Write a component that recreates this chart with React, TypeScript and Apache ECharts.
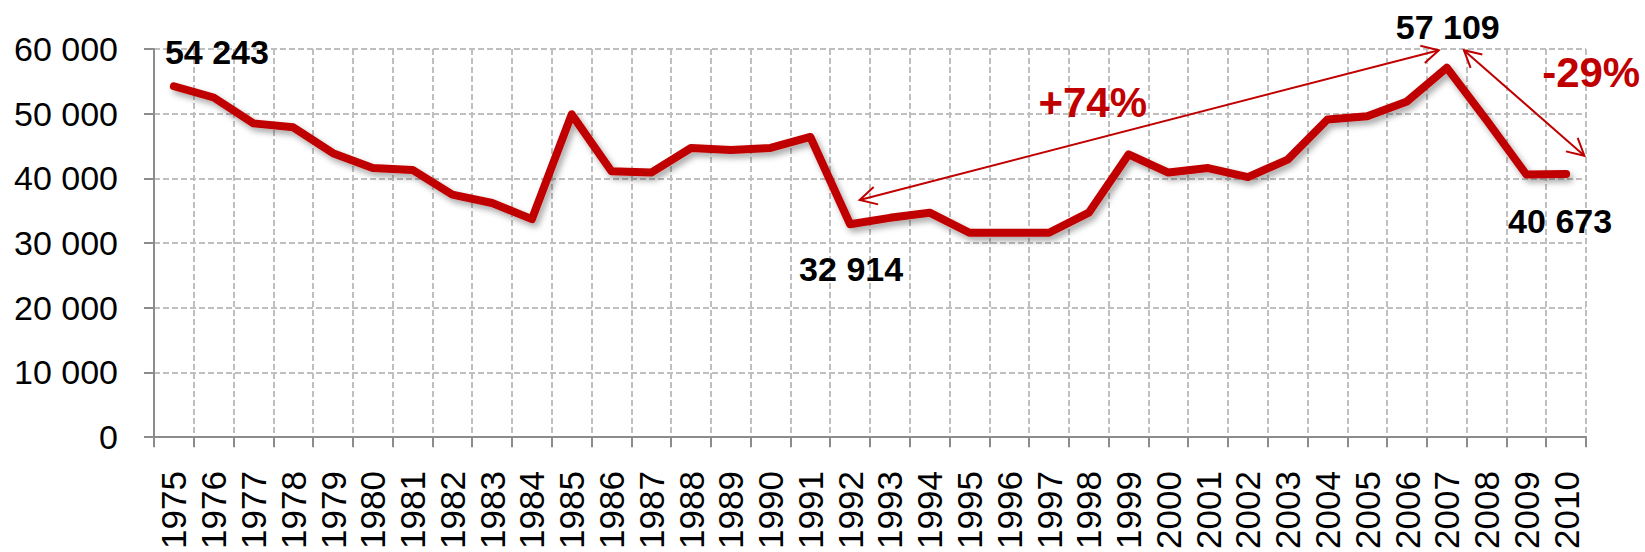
import React, { useEffect, useRef } from 'react';
import * as echarts from 'echarts';

const years = [
  '1975', '1976', '1977', '1978', '1979', '1980', '1981', '1982', '1983', '1984',
  '1985', '1986', '1987', '1988', '1989', '1990', '1991', '1992', '1993', '1994',
  '1995', '1996', '1997', '1998', '1999', '2000', '2001', '2002', '2003', '2004',
  '2005', '2006', '2007', '2008', '2009', '2010',
];

const values = [
  54243, 52500, 48500, 47900, 43900, 41600, 41300, 37500, 36200, 33700,
  49900, 41100, 40900, 44700, 44400, 44700, 46400, 32914, 33900, 34700,
  31600, 31600, 31600, 34700, 43700, 40900, 41600, 40200, 42900, 49100,
  49600, 51900, 57109, 49000, 40600, 40673,
];

const yTicks = [0, 10000, 20000, 30000, 40000, 50000, 60000];

// labelled years and where their value label sits relative to the point (px)
const labelledYears = ['1975', '1992', '2007', '2010'];
const labelOffsets = [[43, -34], [1, 45], [1, -41], [-6, 47]];

// annotation arrows (fractional category index, value) – both ends have arrow heads
const arrowFrom = [[17.24, 36670], [32.43, 59815]];
const arrowTo = [[31.8, 59815], [35.46, 43500]];

// annotation texts (fractional category index, value)
const noteTexts = ['+74%', '-29%'];
const notePos = [[23.1, 51700], [35.63, 56385]];

const RED = '#C00000';
const FONT = '"Liberation Sans", Arial, sans-serif';

const fmt = (v: number) => String(Math.round(v)).replace(/\B(?=(\d{3})+(?!\d))/g, ' ');

export default function App() {
  const ref = useRef<HTMLDivElement>(null);

  useEffect(() => {
    if (!ref.current) return;
    const chart = echarts.init(ref.current, undefined, { renderer: 'svg' });

    const data = values.map((v, i) => {
      const li = labelledYears.indexOf(years[i]);
      if (li < 0) return v;
      return {
        value: v,
        label: {
          show: true,
          position: 'inside',
          offset: labelOffsets[li],
          formatter: fmt(v),
          color: '#000',
          fontSize: 34,
          fontWeight: 'bold',
          fontFamily: FONT,
          align: 'center',
          verticalAlign: 'middle',
        },
      };
    });

    const dashed = { color: '#bfbfbf', width: 2, type: [6, 3] as any };

    chart.setOption({
      animation: false,
      backgroundColor: '#ffffff',
      grid: {
        left: 154,
        right: 59,
        top: 49,
        bottom: 114,
        containLabel: false,
        show: true,
        backgroundColor: '#ffffff',
        borderWidth: 0,
      },
      xAxis: {
        type: 'category',
        data: years,
        boundaryGap: true,
        axisLine: { show: true, lineStyle: { color: '#8c8c8c', width: 2 } },
        axisTick: { show: true, length: 10, interval: 0, lineStyle: { color: '#8c8c8c', width: 2 } },
        axisLabel: {
          interval: 0,
          rotate: 90,
          margin: 34,
          color: '#000',
          fontSize: 35,
          fontFamily: FONT,
        },
        splitLine: { show: true, interval: 0, lineStyle: dashed },
      },
      yAxis: {
        type: 'value',
        min: yTicks[0],
        max: yTicks[yTicks.length - 1],
        interval: yTicks[1] - yTicks[0],
        axisLine: { show: true, lineStyle: { color: '#8c8c8c', width: 2 } },
        axisTick: { show: true, length: 10, lineStyle: { color: '#8c8c8c', width: 2 } },
        axisLabel: {
          margin: 36,
          color: '#000',
          fontSize: 34,
          fontFamily: FONT,
          formatter: (v: number) => fmt(v),
        },
        splitLine: { show: true, lineStyle: dashed },
      },
      series: [
        {
          type: 'line',
          data,
          symbol: 'circle',
          symbolSize: 1,
          showSymbol: true,
          itemStyle: { color: RED },
          lineStyle: {
            color: RED,
            width: 8,
            cap: 'round',
            join: 'round',
            shadowColor: 'rgba(0,0,0,0.35)',
            shadowBlur: 6,
            shadowOffsetX: 3,
            shadowOffsetY: 4,
          },
          z: 5,
        },
      ],
    });

    // map a fractional category index + value to pixels using the chart's own axes
    const a0 = chart.convertToPixel({ gridIndex: 0 }, [0, 0]) as number[];
    const a1 = chart.convertToPixel({ gridIndex: 0 }, [1, 0]) as number[];
    const toPx = (p: number[]) => {
      const py = chart.convertToPixel({ yAxisIndex: 0 }, p[1]) as number;
      return [a0[0] + (a1[0] - a0[0]) * p[0], py];
    };

    const graphics: any[] = [];
    const head = (tip: number[], other: number[]) => {
      const dx = tip[0] - other[0];
      const dy = tip[1] - other[1];
      const len = Math.hypot(dx, dy);
      const ux = -dx / len;
      const uy = -dy / len;
      const L = 19;
      const a = (28 * Math.PI) / 180;
      const rot = (s: number) => [
        tip[0] + L * (ux * Math.cos(s * a) - uy * Math.sin(s * a)),
        tip[1] + L * (ux * Math.sin(s * a) + uy * Math.cos(s * a)),
      ];
      return {
        type: 'polyline',
        shape: { points: [rot(1), tip, rot(-1)] },
        style: { stroke: RED, lineWidth: 2, fill: null },
        z: 10,
      };
    };
    arrowFrom.forEach((f, i) => {
      const p1 = toPx(f);
      const p2 = toPx(arrowTo[i]);
      graphics.push({
        type: 'line',
        shape: { x1: p1[0], y1: p1[1], x2: p2[0], y2: p2[1] },
        style: { stroke: RED, lineWidth: 2 },
        z: 10,
      });
      graphics.push(head(p1, p2));
      graphics.push(head(p2, p1));
    });
    noteTexts.forEach((t, i) => {
      const p = toPx(notePos[i]);
      graphics.push({
        type: 'text',
        x: p[0],
        y: p[1],
        z: 10,
        style: {
          text: t,
          fill: RED,
          font: `bold 42px ${FONT}`,
          fontSize: 42,
          fontWeight: 'bold',
          fontFamily: FONT,
          align: 'center',
          verticalAlign: 'middle',
          textAlign: 'center',
          textVerticalAlign: 'middle',
        },
      });
    });
    chart.setOption({ graphic: graphics });

    return () => chart.dispose();
  }, []);

  return (
    <div
      ref={ref}
      style={{ position: 'fixed', left: 0, top: 0, width: 1645, height: 552 }}
    />
  );
}
